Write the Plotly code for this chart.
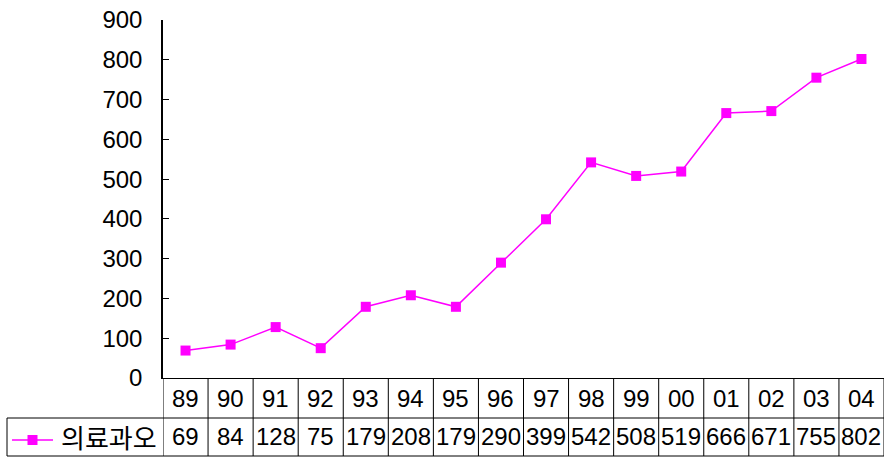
import plotly.graph_objects as go

categories = ["89", "90", "91", "92", "93", "94", "95", "96", "97", "98", "99", "00", "01", "02", "03", "04"]
values = [69, 84, 128, 75, 179, 208, 179, 290, 399, 542, 508, 519, 666, 671, 755, 802]
series_name = "의료과오"
y_ticks = [0, 100, 200, 300, 400, 500, 600, 700, 800, 900]

W, H = 890, 458
ML, MR, MT, MB = 163, 6, 20, 80
pw = W - ML - MR
ph = H - MT - MB
MAG = "#FF00FF"
FONT = "Liberation Sans, Noto Sans CJK KR, sans-serif"
FS = 24

def py(px_y):
    return (H - MB - px_y) / ph

def px(px_x):
    return (px_x - ML) / pw

n = len(categories)
xs = list(range(n))

fig = go.Figure()
fig.add_trace(go.Scatter(
    x=xs, y=values, mode="lines+markers",
    line=dict(color=MAG, width=1.5),
    marker=dict(symbol="square", size=10, color=MAG),
    showlegend=False, cliponaxis=False,
))

shapes = []
line_style = dict(color="black", width=1)
row1_bot = py(418)
row2_bot = py(456)
for i in range(n + 1):
    shapes.append(dict(type="line", xref="x", yref="paper", x0=i - 0.5, x1=i - 0.5,
                       y0=0, y1=row2_bot, line=line_style))
shapes.append(dict(type="line", xref="paper", yref="paper", x0=px(7), x1=1,
                   y0=row1_bot, y1=row1_bot, line=line_style))
shapes.append(dict(type="line", xref="paper", yref="paper", x0=px(7), x1=1,
                   y0=row2_bot, y1=row2_bot, line=line_style))
shapes.append(dict(type="line", xref="paper", yref="paper", x0=px(7), x1=px(7),
                   y0=row1_bot, y1=row2_bot, line=line_style))
shapes.append(dict(type="line", xref="paper", yref="paper", x0=px(12), x1=px(53),
                   y0=py(440), y1=py(440), line=dict(color=MAG, width=1.5)))
shapes.append(dict(type="rect", xref="paper", yref="paper", x0=px(27.5), x1=px(37.5),
                   y0=py(435), y1=py(445), line=dict(width=0), fillcolor=MAG))

annotations = []
for i, c in enumerate(categories):
    annotations.append(dict(x=i, y=(0 + row1_bot) / 2, xref="x", yref="paper", text=c,
                            showarrow=False, font=dict(size=FS, color="black", family=FONT),
                            xanchor="center", yanchor="middle"))
for i, v in enumerate(values):
    annotations.append(dict(x=i, y=(row1_bot + row2_bot) / 2, xref="x", yref="paper", text=str(v),
                            showarrow=False, font=dict(size=FS, color="black", family=FONT),
                            xanchor="center", yanchor="middle"))
annotations.append(dict(x=px(59), y=(row1_bot + row2_bot) / 2, xref="paper", yref="paper",
                        text=series_name, showarrow=False,
                        font=dict(size=26, color="black", family="Noto Sans CJK KR"),
                        xanchor="left", yanchor="middle"))

fig.update_layout(
    width=W, height=H,
    margin=dict(l=ML, r=MR, t=MT, b=MB),
    paper_bgcolor="white", plot_bgcolor="white",
    shapes=shapes, annotations=annotations,
    xaxis=dict(range=[-0.5, n - 0.5], showticklabels=False, showgrid=False, zeroline=False,
               showline=True, linecolor="black", linewidth=1, ticks=""),
    yaxis=dict(range=[0, 900], tickvals=y_ticks, showgrid=False, zeroline=False,
               showline=True, linecolor="black", linewidth=1.5, ticks="inside", ticklen=6,
               tickcolor="black", tickwidth=1, ticklabelstandoff=14,
               tickfont=dict(size=FS, color="black", family=FONT)),
)

fig.write_html("out.html")
